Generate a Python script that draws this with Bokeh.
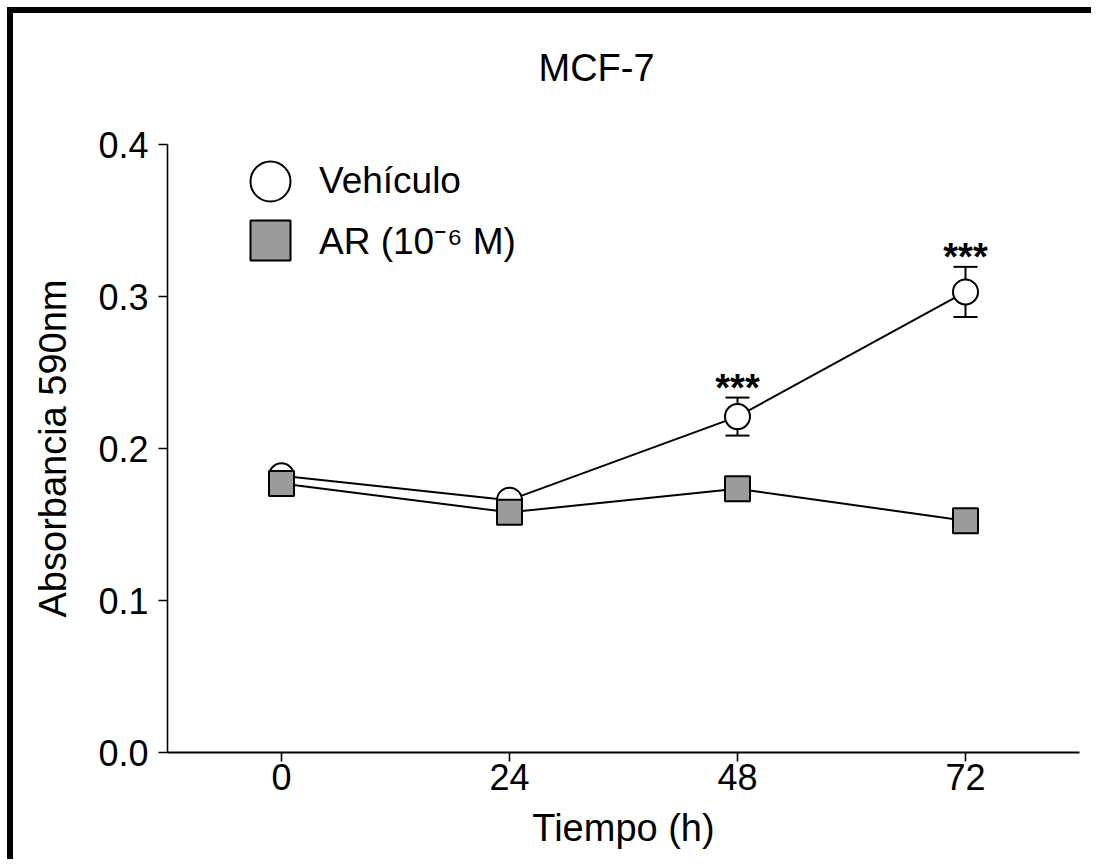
from bokeh.plotting import figure
from bokeh.models import (ColumnDataSource, Whisker, TeeHead, FixedTicker, Legend,
                          LegendItem, Range1d)
from bokeh.core.properties import value
from bokeh.embed import file_html
from bokeh.resources import INLINE

# ---------------- data ----------------
times = [0, 24, 48, 72]
x_tick_labels = ["0", "24", "48", "72"]
veh_mean = [0.182, 0.166, 0.221, 0.303]
veh_sem = [0.003, 0.003, 0.0125, 0.0165]
ar_mean = [0.177, 0.158, 0.1735, 0.1525]
sig_times = [48, 72]
sig_labels = ["***", "***"]
y_ticks = [0.0, 0.1, 0.2, 0.3, 0.4]
y_tick_labels = ["0.0", "0.1", "0.2", "0.3", "0.4"]
title_text = "MCF-7"
x_label = "Tiempo (h)"
y_label = "Absorbancia 590nm"
series_names = ["Vehículo", "AR (10⁻⁶ M)"]

# ---------------- styling ----------------
FONT = "Liberation Sans"
GREY = "#9b9b9b"

veh_upper = [m + s for m, s in zip(veh_mean, veh_sem)]
veh_lower = [m - s for m, s in zip(veh_mean, veh_sem)]
veh_src = ColumnDataSource(dict(t=times, m=veh_mean, up=veh_upper, lo=veh_lower))
ar_src = ColumnDataSource(dict(t=times, m=ar_mean))
sig_src = ColumnDataSource(dict(
    t=sig_times,
    y=[veh_upper[times.index(t)] for t in sig_times],
    txt=sig_labels,
))

p = figure(width=1084, height=852, x_range=Range1d(-12, 84), y_range=Range1d(0, 0.4),
           output_backend="svg", toolbar_location=None,
           min_border_left=154, min_border_right=18, min_border_top=131,
           min_border_bottom=113)
p.styles = {"margin-left": "7px", "margin-top": "7px",
            "border-top": "6px solid black", "border-left": "6px solid black"}
p.outline_line_color = None
p.xgrid.grid_line_color = None
p.ygrid.grid_line_color = None
p.background_fill_color = "white"
p.border_fill_color = "white"

# title (a blank second line lifts it away from the frame)
p.title.text = title_text + "\n "
p.title.align = "left"
p.title.offset = 371
p.title.standoff = 28
p.title.text_font = FONT
p.title.text_font_size = "38px"
p.title.text_font_style = "normal"
p.title.text_color = "black"

# lines
p.line("t", "m", source=veh_src, line_color="black", line_width=2)
p.line("t", "m", source=ar_src, line_color="black", line_width=2)

# error bars
wh = Whisker(base="t", upper="up", lower="lo", source=veh_src,
             line_color="black", line_width=2,
             upper_head=TeeHead(size=24, line_width=2, line_color="black"),
             lower_head=TeeHead(size=24, line_width=2, line_color="black"))
p.add_layout(wh)

veh_r = p.ellipse("t", "m", source=veh_src, width=25, height=25,
                  width_units="screen", height_units="screen",
                  fill_color="white", line_color="black", line_width=2)
ar_r = p.rect("t", "m", source=ar_src, width=25, height=25,
              width_units="screen", height_units="screen",
              fill_color=GREY, line_color="black", line_width=2)

# significance stars
p.text("t", "y", text="txt", source=sig_src, text_align="center",
       text_baseline="alphabetic", y_offset=-10, text_font=value(FONT),
       text_font_size="38px", text_font_style="bold", text_color="black")

# axes
p.xaxis.ticker = FixedTicker(ticks=times)
p.xaxis.major_label_overrides = {t: l for t, l in zip(times, x_tick_labels)}
p.yaxis.ticker = FixedTicker(ticks=y_ticks)
p.yaxis.major_label_overrides = {t: l for t, l in zip(y_ticks, y_tick_labels)}
for ax in (p.xaxis[0], p.yaxis[0]):
    ax.minor_tick_line_color = None
    ax.major_tick_in = 0
    ax.major_tick_out = 9
    ax.major_label_text_font = FONT
    ax.major_label_text_font_size = "36px"
    ax.major_label_text_color = "black"
    ax.axis_label_text_font = FONT
    ax.axis_label_text_font_size = "38px"
    ax.axis_label_text_font_style = "normal"
    ax.axis_label_text_color = "black"
    ax.axis_line_color = "black"
    ax.major_tick_line_color = "black"
p.xaxis.axis_line_width = 2.2
p.xaxis.major_tick_line_width = 1.6
p.yaxis.axis_line_width = 1.6
p.yaxis.major_tick_line_width = 1.6
p.xaxis.axis_label = x_label
p.yaxis.axis_label = y_label
p.xaxis.major_label_standoff = 2
p.xaxis.axis_label_standoff = 14
p.yaxis.major_label_standoff = 10
p.yaxis.axis_label_standoff = 21

# legend
legend = Legend(items=[LegendItem(label=value(series_names[0]), renderers=[veh_r]),
                       LegendItem(label=value(series_names[1]), renderers=[ar_r])],
                location=(78, 487), glyph_width=50, glyph_height=50, spacing=8,
                padding=0, margin=0, border_line_color=None, background_fill_alpha=0,
                label_text_font=FONT, label_text_font_size="37px", label_standoff=24,
                label_text_color="black")
p.add_layout(legend)

open("out.html", "w").write(file_html(p, INLINE))
